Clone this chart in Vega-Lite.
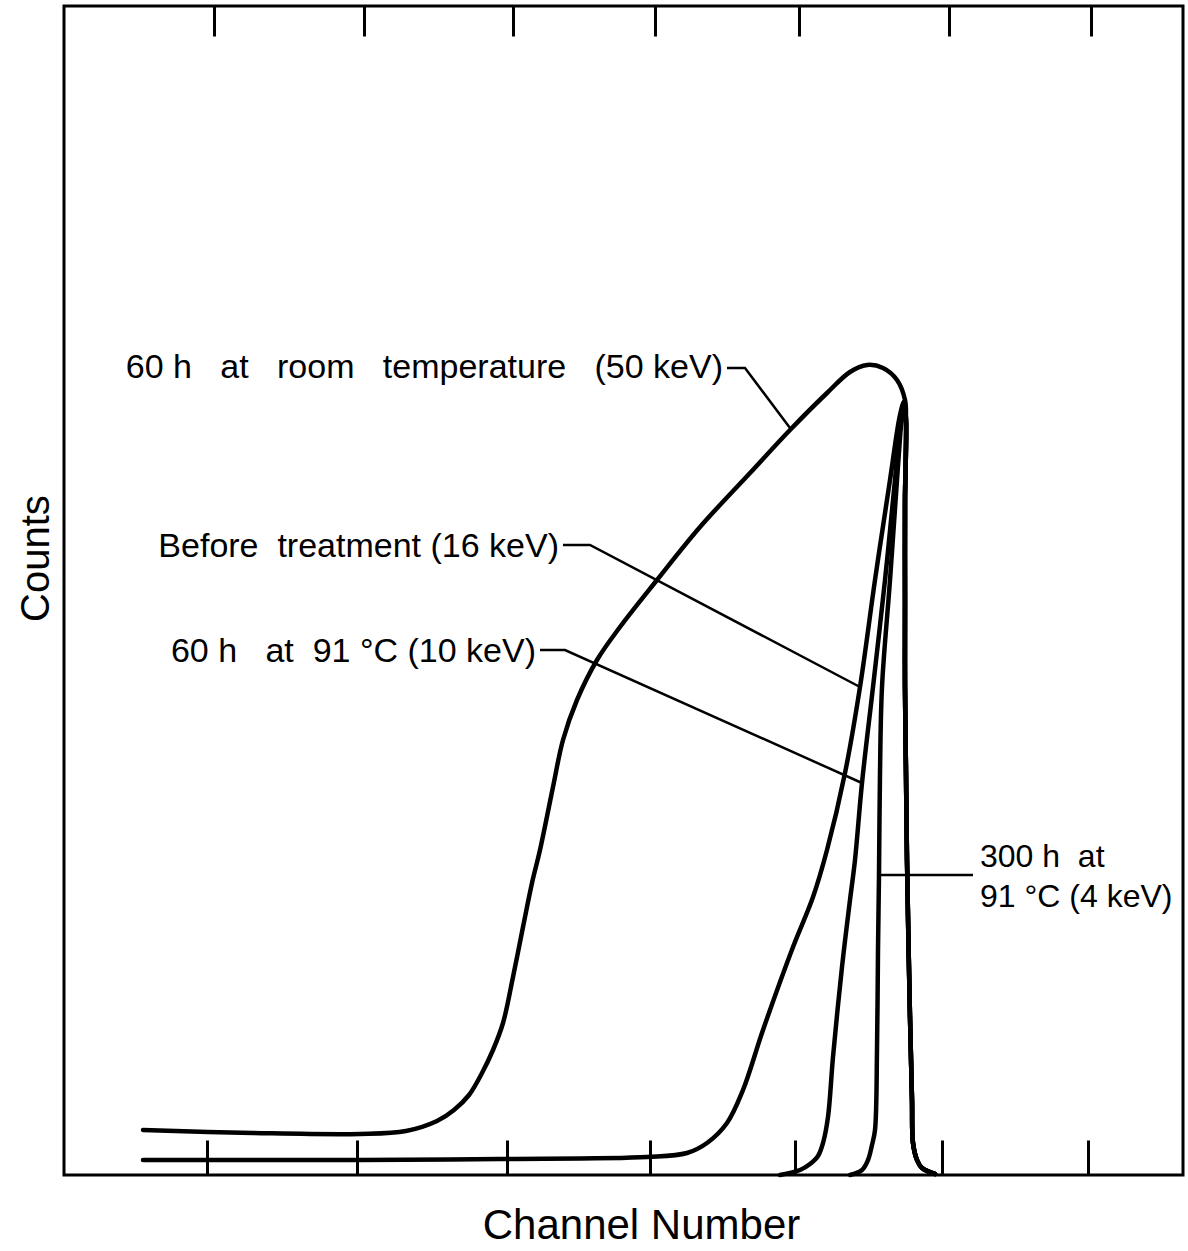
{
  "$schema": "https://vega.github.io/schema/vega-lite/v6.json",
  "width": 1119,
  "height": 1169,
  "autosize": {"type": "none"},
  "padding": {"left": 64, "top": 6, "right": 5, "bottom": 76},
  "background": "white",
  "config": {"view": {"stroke": "black", "strokeWidth": 3}, "font": "Liberation Sans"},
  "datasets": {
    "curves": [
      {"s":"A","i":0,"x":79,"y":45},{"s":"A","i":1,"x":189,"y":42},{"s":"A","i":2,"x":296,"y":41},{"s":"A","i":3,"x":342,"y":44},{"s":"A","i":4,"x":373,"y":54},{"s":"A","i":5,"x":390,"y":65},{"s":"A","i":6,"x":405,"y":80},{"s":"A","i":7,"x":418,"y":102},{"s":"A","i":8,"x":429,"y":125},{"s":"A","i":9,"x":439,"y":152},{"s":"A","i":10,"x":449,"y":198},{"s":"A","i":11,"x":459,"y":248},{"s":"A","i":12,"x":468,"y":292},{"s":"A","i":13,"x":476,"y":325},{"s":"A","i":14,"x":489,"y":388},{"s":"A","i":15,"x":499,"y":435},{"s":"A","i":16,"x":513,"y":475},{"s":"A","i":17,"x":533,"y":515},{"s":"A","i":18,"x":556,"y":548},{"s":"A","i":19,"x":593,"y":595},{"s":"A","i":20,"x":636,"y":648},{"s":"A","i":21,"x":686,"y":702},{"s":"A","i":22,"x":726,"y":745},{"s":"A","i":23,"x":763,"y":782},{"s":"A","i":24,"x":786,"y":803},{"s":"A","i":25,"x":803,"y":810},{"s":"A","i":26,"x":819,"y":807},{"s":"A","i":27,"x":833,"y":795},{"s":"A","i":28,"x":841,"y":775},
      {"s":"A","i":29,"x":842,"y":755},{"s":"A","i":30,"x":841,"y":675},{"s":"A","i":31,"x":841,"y":575},{"s":"A","i":32,"x":841,"y":488},{"s":"A","i":33,"x":842,"y":402},{"s":"A","i":34,"x":843,"y":315},{"s":"A","i":35,"x":846,"y":158},{"s":"A","i":36,"x":848,"y":75},{"s":"A","i":37,"x":849,"y":32},{"s":"A","i":38,"x":853,"y":15},{"s":"A","i":39,"x":858,"y":7},{"s":"A","i":40,"x":871,"y":1},
      {"s":"B","i":0,"x":79,"y":15},{"s":"B","i":1,"x":296,"y":15},{"s":"B","i":2,"x":436,"y":16},{"s":"B","i":3,"x":583,"y":18},{"s":"B","i":4,"x":623,"y":22},{"s":"B","i":5,"x":643,"y":32},{"s":"B","i":6,"x":663,"y":52},{"s":"B","i":7,"x":679,"y":85},{"s":"B","i":8,"x":699,"y":145},{"s":"B","i":9,"x":729,"y":228},{"s":"B","i":10,"x":749,"y":278},{"s":"B","i":11,"x":763,"y":325},{"s":"B","i":12,"x":781,"y":402},{"s":"B","i":13,"x":796,"y":488},{"s":"B","i":14,"x":811,"y":595},{"s":"B","i":15,"x":826,"y":695},{"s":"B","i":16,"x":836,"y":760},{"s":"B","i":17,"x":840,"y":773},
      {"s":"B","i":18,"x":842,"y":755},{"s":"B","i":19,"x":841,"y":675},{"s":"B","i":20,"x":841,"y":575},{"s":"B","i":21,"x":841,"y":488},{"s":"B","i":22,"x":842,"y":402},{"s":"B","i":23,"x":843,"y":315},{"s":"B","i":24,"x":846,"y":158},{"s":"B","i":25,"x":848,"y":75},{"s":"B","i":26,"x":849,"y":32},{"s":"B","i":27,"x":853,"y":15},{"s":"B","i":28,"x":858,"y":7},{"s":"B","i":29,"x":871,"y":1},
      {"s":"C","i":0,"x":716,"y":0},{"s":"C","i":1,"x":736,"y":5},{"s":"C","i":2,"x":746,"y":11},{"s":"C","i":3,"x":754,"y":19},{"s":"C","i":4,"x":759,"y":32},{"s":"C","i":5,"x":764,"y":58},{"s":"C","i":6,"x":769,"y":118},{"s":"C","i":7,"x":778,"y":208},{"s":"C","i":8,"x":786,"y":275},{"s":"C","i":9,"x":791,"y":315},{"s":"C","i":10,"x":798,"y":392},{"s":"C","i":11,"x":809,"y":488},{"s":"C","i":12,"x":821,"y":595},{"s":"C","i":13,"x":831,"y":695},{"s":"C","i":14,"x":837,"y":760},{"s":"C","i":15,"x":840,"y":773},
      {"s":"C","i":16,"x":842,"y":755},{"s":"C","i":17,"x":841,"y":675},{"s":"C","i":18,"x":841,"y":575},{"s":"C","i":19,"x":841,"y":488},{"s":"C","i":20,"x":842,"y":402},{"s":"C","i":21,"x":843,"y":315},{"s":"C","i":22,"x":846,"y":158},{"s":"C","i":23,"x":848,"y":75},{"s":"C","i":24,"x":849,"y":32},{"s":"C","i":25,"x":853,"y":15},{"s":"C","i":26,"x":858,"y":7},{"s":"C","i":27,"x":871,"y":1},
      {"s":"D","i":0,"x":786,"y":0},{"s":"D","i":1,"x":798,"y":5},{"s":"D","i":2,"x":804,"y":15},{"s":"D","i":3,"x":808,"y":30},{"s":"D","i":4,"x":811,"y":45},{"s":"D","i":5,"x":813,"y":125},{"s":"D","i":6,"x":814,"y":225},{"s":"D","i":7,"x":815,"y":300},{"s":"D","i":8,"x":816,"y":402},{"s":"D","i":9,"x":818,"y":488},{"s":"D","i":10,"x":826,"y":595},{"s":"D","i":11,"x":833,"y":695},{"s":"D","i":12,"x":838,"y":760},{"s":"D","i":13,"x":840,"y":773},
      {"s":"D","i":14,"x":842,"y":755},{"s":"D","i":15,"x":841,"y":675},{"s":"D","i":16,"x":841,"y":575},{"s":"D","i":17,"x":841,"y":488},{"s":"D","i":18,"x":842,"y":402},{"s":"D","i":19,"x":843,"y":315},{"s":"D","i":20,"x":846,"y":158},{"s":"D","i":21,"x":848,"y":75},{"s":"D","i":22,"x":849,"y":32},{"s":"D","i":23,"x":853,"y":15},{"s":"D","i":24,"x":858,"y":7},{"s":"D","i":25,"x":871,"y":1}
    ],
    "leaders": [
      {"k":"L1","i":0,"x":663,"y":807},{"k":"L1","i":1,"x":681,"y":807},{"k":"L1","i":2,"x":726,"y":747},
      {"k":"L2","i":0,"x":499,"y":630},{"k":"L2","i":1,"x":526,"y":630},{"k":"L2","i":2,"x":796,"y":488},
      {"k":"L3","i":0,"x":476,"y":525},{"k":"L3","i":1,"x":501,"y":525},{"k":"L3","i":2,"x":798,"y":392},
      {"k":"L4","i":0,"x":816,"y":300},{"k":"L4","i":1,"x":909,"y":300}
    ],
    "labelsR": [
      {"t":"60 h\u00a0\u00a0 at\u00a0\u00a0 room\u00a0\u00a0 temperature\u00a0\u00a0 (50 keV)","x":659,"y":807},
      {"t":"Before\u00a0 treatment (16 keV)","x":495,"y":628},
      {"t":"60 h\u00a0\u00a0 at\u00a0 91 °C (10 keV)","x":472,"y":523}
    ],
    "labelsL": [
      {"t":"300 h\u00a0 at","x":916,"y":318},
      {"t":"91 °C (4 keV)","x":916,"y":278}
    ]
  },
  "resolve": {"axis": {"x": "independent", "y": "independent"}},
  "layer": [
    {
      "data": {"name": "curves"},
      "mark": {"type": "line", "stroke": "black", "strokeWidth": 4.5, "strokeJoin": "round", "strokeCap": "round", "interpolate": "catmull-rom"},
      "encoding": {
        "x": {"field": "x", "type": "quantitative", "scale": {"domain": [0, 1119], "nice": false, "zero": false},
          "axis": {"orient": "bottom", "values": [143, 293, 443, 586, 731, 878, 1024], "tickSize": -35, "tickWidth": 3, "tickColor": "black", "labels": false, "domain": false, "grid": false,
            "title": "Channel Number", "titleFontSize": 42, "titleFontWeight": "normal", "titleColor": "black", "titleX": 577, "titleY": 63, "titleBaseline": "alphabetic", "titleAlign": "center"}},
        "y": {"field": "y", "type": "quantitative", "scale": {"domain": [0, 1169], "nice": false, "zero": false},
          "axis": {"ticks": false, "labels": false, "domain": false, "grid": false,
            "title": "Counts", "titleFontSize": 40, "titleFontWeight": "normal", "titleColor": "black", "titleX": -16, "titleY": 552, "titleAngle": -90, "titleBaseline": "alphabetic", "titleAlign": "center"}},
        "detail": {"field": "s"},
        "order": {"field": "i", "type": "quantitative"}
      }
    },
    {
      "data": {"name": "leaders"},
      "mark": {"type": "line", "stroke": "black", "strokeWidth": 2.5},
      "encoding": {
        "x": {"field": "x", "type": "quantitative",
          "axis": {"orient": "top", "values": [150, 300, 449, 591, 735, 885, 1027], "tickSize": -30, "tickWidth": 3, "tickColor": "black", "labels": false, "domain": false, "grid": false, "title": null}},
        "y": {"field": "y", "type": "quantitative", "axis": null},
        "detail": {"field": "k"},
        "order": {"field": "i", "type": "quantitative"}
      }
    },
    {
      "data": {"name": "labelsR"},
      "mark": {"type": "text", "align": "right", "baseline": "middle", "fontSize": 34, "color": "black"},
      "encoding": {
        "x": {"field": "x", "type": "quantitative", "axis": null},
        "y": {"field": "y", "type": "quantitative", "axis": null},
        "text": {"field": "t"}
      }
    },
    {
      "data": {"name": "labelsL"},
      "mark": {"type": "text", "align": "left", "baseline": "middle", "fontSize": 32, "color": "black"},
      "encoding": {
        "x": {"field": "x", "type": "quantitative", "axis": null},
        "y": {"field": "y", "type": "quantitative", "axis": null},
        "text": {"field": "t"}
      }
    }
  ]
}
